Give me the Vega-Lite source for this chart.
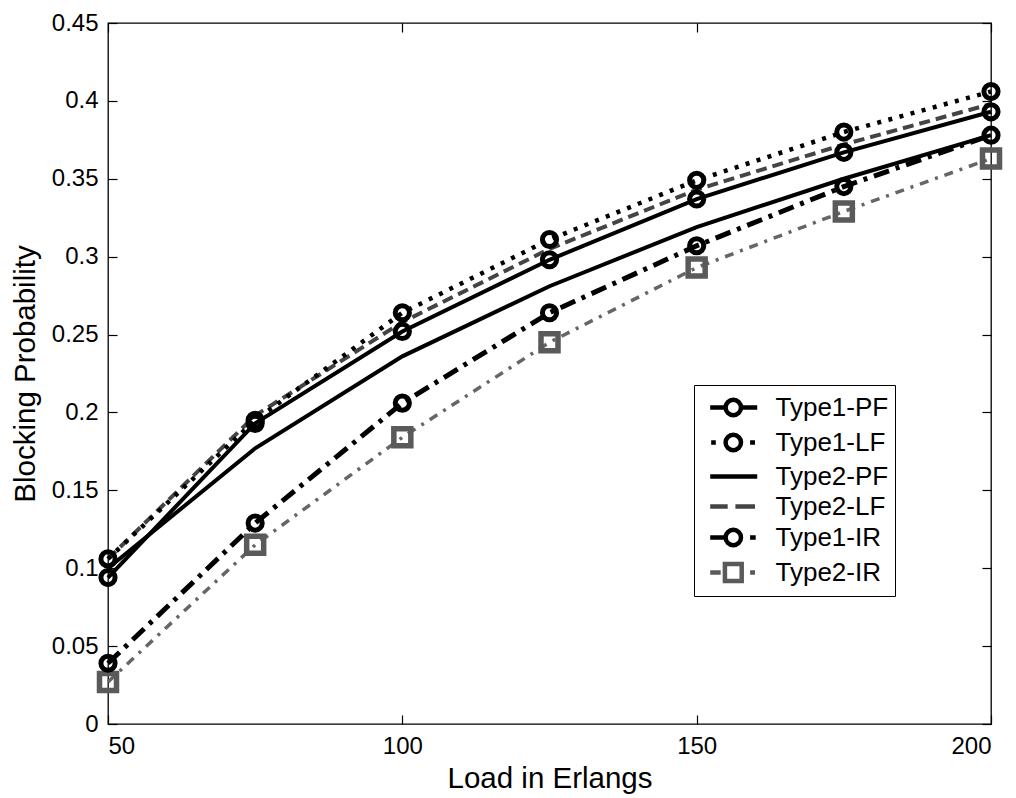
{
  "$schema": "https://vega.github.io/schema/vega-lite/v6.json",
  "width": 883,
  "height": 701,
  "autosize": {"type": "none"},
  "padding": {"left": 108, "top": 23, "right": 25, "bottom": 74},
  "background": "white",
  "config": {
    "view": {"stroke": "#000", "strokeWidth": 1.3},
    "font": "Liberation Sans",
    "axis": {"grid": false, "domain": false, "labelFont": "Liberation Sans", "titleFont": "Liberation Sans", "labelColor": "#000", "titleColor": "#000", "tickColor": "#000", "tickWidth": 1.2, "labelFontSize": 24, "titleFontSize": 29.5, "titleFontWeight": "normal"}
  },
  "datasets": {
    "curves": [
      {"series": "Type1-PF", "load": 50, "p": 0.094},
      {"series": "Type1-PF", "load": 75, "p": 0.193},
      {"series": "Type1-PF", "load": 100, "p": 0.252},
      {"series": "Type1-PF", "load": 125, "p": 0.298},
      {"series": "Type1-PF", "load": 150, "p": 0.337},
      {"series": "Type1-PF", "load": 175, "p": 0.367},
      {"series": "Type1-PF", "load": 200, "p": 0.393},
      {"series": "Type1-LF", "load": 50, "p": 0.106},
      {"series": "Type1-LF", "load": 75, "p": 0.195},
      {"series": "Type1-LF", "load": 100, "p": 0.264},
      {"series": "Type1-LF", "load": 125, "p": 0.311},
      {"series": "Type1-LF", "load": 150, "p": 0.349},
      {"series": "Type1-LF", "load": 175, "p": 0.380},
      {"series": "Type1-LF", "load": 200, "p": 0.406},
      {"series": "Type2-PF", "load": 50, "p": 0.100},
      {"series": "Type2-PF", "load": 75, "p": 0.177},
      {"series": "Type2-PF", "load": 100, "p": 0.236},
      {"series": "Type2-PF", "load": 125, "p": 0.281},
      {"series": "Type2-PF", "load": 150, "p": 0.319},
      {"series": "Type2-PF", "load": 175, "p": 0.350},
      {"series": "Type2-PF", "load": 200, "p": 0.378},
      {"series": "Type2-LF", "load": 50, "p": 0.106},
      {"series": "Type2-LF", "load": 75, "p": 0.198},
      {"series": "Type2-LF", "load": 100, "p": 0.258},
      {"series": "Type2-LF", "load": 125, "p": 0.305},
      {"series": "Type2-LF", "load": 150, "p": 0.343},
      {"series": "Type2-LF", "load": 175, "p": 0.372},
      {"series": "Type2-LF", "load": 200, "p": 0.398},
      {"series": "Type1-IR", "load": 50, "p": 0.039},
      {"series": "Type1-IR", "load": 75, "p": 0.129},
      {"series": "Type1-IR", "load": 100, "p": 0.206},
      {"series": "Type1-IR", "load": 125, "p": 0.264},
      {"series": "Type1-IR", "load": 150, "p": 0.307},
      {"series": "Type1-IR", "load": 175, "p": 0.345},
      {"series": "Type1-IR", "load": 200, "p": 0.378},
      {"series": "Type2-IR", "load": 50, "p": 0.027},
      {"series": "Type2-IR", "load": 75, "p": 0.115},
      {"series": "Type2-IR", "load": 100, "p": 0.184},
      {"series": "Type2-IR", "load": 125, "p": 0.245},
      {"series": "Type2-IR", "load": 150, "p": 0.293},
      {"series": "Type2-IR", "load": 175, "p": 0.329},
      {"series": "Type2-IR", "load": 200, "p": 0.363}
    ]
  },
  "data": {"name": "curves"},
  "encoding": {
    "x": {"field": "load", "type": "quantitative", "scale": {"domain": [50, 200], "nice": false, "zero": false}, "axis": null},
    "y": {"field": "p", "type": "quantitative", "scale": {"domain": [0, 0.45], "nice": false, "zero": false}, "axis": null}
  },
  "layer": [
    {
      "transform": [{"filter": "datum.series === 'Type2-IR'"}],
      "mark": {"type": "line", "color": "#666", "strokeWidth": 3.5, "strokeDash": [9, 7, 3, 7]},
      "encoding": {
        "x": {"field": "load", "type": "quantitative", "title": "Load in Erlangs",
          "axis": {"orient": "bottom", "values": [50, 100, 150, 200], "tickSize": -9, "labelPadding": 19, "titlePadding": 6}},
        "y": {"field": "p", "type": "quantitative", "title": "Blocking Probability",
          "axis": {"orient": "left", "values": [0, 0.05, 0.1, 0.15, 0.2, 0.25, 0.3, 0.35, 0.4, 0.45], "format": "~g", "tickSize": -9, "labelPadding": 19, "titlePadding": 11}}
      }
    },
    {
      "transform": [{"filter": "datum.series === 'Type2-IR'"}],
      "mark": {"type": "point", "shape": "square", "filled": false, "stroke": "#5a5a5a", "strokeWidth": 5.5, "size": 289, "opacity": 1}
    },
    {
      "transform": [{"filter": "datum.series === 'Type2-LF'"}],
      "mark": {"type": "line", "color": "#444", "strokeWidth": 4, "strokeDash": [11, 6]}
    },
    {
      "transform": [{"filter": "datum.series === 'Type2-PF'"}],
      "mark": {"type": "line", "color": "#000", "strokeWidth": 4}
    },
    {
      "transform": [{"filter": "datum.series === 'Type1-IR'"}],
      "mark": {"type": "line", "color": "#000", "strokeWidth": 5, "strokeDash": [16, 7, 4, 7]}
    },
    {
      "transform": [{"filter": "datum.series === 'Type1-LF'"}],
      "mark": {"type": "line", "color": "#000", "strokeWidth": 4.5, "strokeDash": [4, 7.5]}
    },
    {
      "transform": [{"filter": "datum.series === 'Type1-PF'"}],
      "mark": {"type": "line", "color": "#000", "strokeWidth": 4}
    },
    {
      "transform": [{"filter": "datum.series === 'Type1-PF' || datum.series === 'Type1-LF' || datum.series === 'Type1-IR'"}],
      "mark": {"type": "point", "shape": "circle", "filled": false, "stroke": "#000", "strokeWidth": 5, "size": 201, "opacity": 1}
    },
    {
      "transform": [{"filter": "datum.load === 50"}],
      "mark": {"type": "point", "filled": false, "opacity": 0, "strokeWidth": 4.5},
      "encoding": {
        "x": {"field": "load", "type": "quantitative",
          "axis": {"orient": "top", "values": [50, 100, 150, 200], "labels": false, "tickSize": -9, "title": null}},
        "y": {"field": "p", "type": "quantitative",
          "axis": {"orient": "right", "values": [0, 0.05, 0.1, 0.15, 0.2, 0.25, 0.3, 0.35, 0.4, 0.45], "labels": false, "tickSize": -9, "title": null}},
        "shape": {"field": "series", "type": "nominal",
          "scale": {"domain": ["Type1-PF", "Type1-LF", "Type2-PF", "Type2-LF", "Type1-IR", "Type2-IR"],
            "range": [
              "M-0.45,0H0.65M1.75,0H2.91M1.75,0A0.55,0.55 0 1,1 0.65,0A0.55,0.55 0 1,1 1.75,0",
              "M-0.38,0H-0.05M2.4,0H2.75M1.75,0A0.55,0.55 0 1,1 0.65,0A0.55,0.55 0 1,1 1.75,0",
              "M-0.45,0H2.91",
              "M-0.45,0H0.8M1.35,0H2.75",
              "M-0.45,0H0.65M2.4,0H2.8M1.75,0A0.55,0.55 0 1,1 0.65,0A0.55,0.55 0 1,1 1.75,0",
              "M-0.45,0H0.3M2.4,0H2.75M0.6,-0.6H1.8V0.6H0.6Z"
            ]},
          "legend": {"title": null, "orient": "none", "legendX": 586, "legendY": 362, "direction": "vertical",
            "padding": 6, "rowPadding": 0, "strokeColor": "#000", "fillColor": "#fff",
            "symbolSize": 784, "symbolStrokeWidth": 4.5, "symbolOpacity": 1, "symbolFillColor": "transparent",
            "labelFont": "Liberation Sans", "labelFontSize": 26, "labelColor": "#000", "labelOffset": 42.5, "labelLimit": 300}},
        "stroke": {"field": "series", "type": "nominal",
          "scale": {"domain": ["Type1-PF", "Type1-LF", "Type2-PF", "Type2-LF", "Type1-IR", "Type2-IR"],
            "range": ["#000", "#000", "#000", "#444", "#000", "#5a5a5a"]},
          "legend": {"title": null, "orient": "none", "legendX": 586, "legendY": 362, "direction": "vertical",
            "padding": 6, "rowPadding": 0, "strokeColor": "#000", "fillColor": "#fff",
            "symbolSize": 784, "symbolStrokeWidth": 4.5, "symbolOpacity": 1, "symbolFillColor": "transparent",
            "labelFont": "Liberation Sans", "labelFontSize": 26, "labelColor": "#000", "labelOffset": 42.5, "labelLimit": 300}}
      }
    }
  ],
  "resolve": {"axis": {"x": "independent", "y": "independent"}}
}
